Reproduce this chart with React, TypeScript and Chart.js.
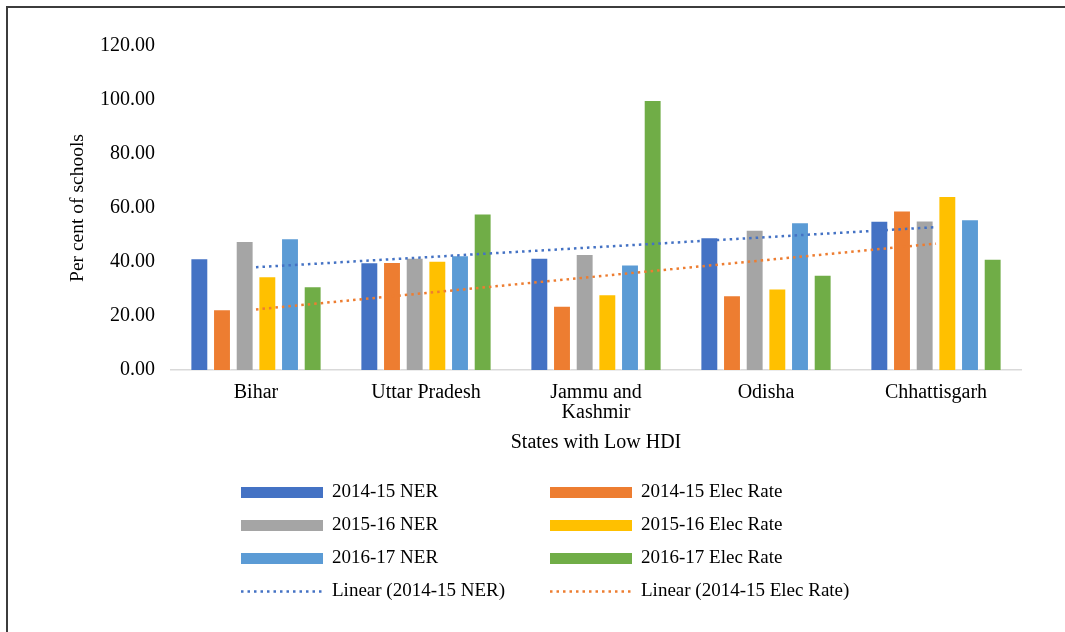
import React, { useEffect, useRef } from 'react';
import { Chart, registerables } from 'chart.js';

Chart.register(...registerables);

// ---- Data ----
const categories: (string | string[])[] = ['Bihar', 'Uttar Pradesh', ['Jammu and', 'Kashmir'], 'Odisha', 'Chhattisgarh'];

const ner2014 = [41.4, 39.9, 41.6, 49.2, 55.3];
const elec2014 = [22.5, 40.0, 23.8, 27.7, 59.1];
const ner2015 = [47.8, 41.6, 43.0, 51.9, 55.4];
const elec2015 = [34.7, 40.5, 28.1, 30.2, 64.4];
const ner2016 = [48.8, 42.5, 39.1, 54.7, 55.8];
const elec2016 = [31.0, 58.0, 100.0, 35.3, 41.2];

const seriesLabels = [
  '2014-15 NER',
  '2014-15 Elec Rate',
  '2015-16 NER',
  '2015-16 Elec Rate',
  '2016-17 NER',
  '2016-17 Elec Rate',
];
const trendLabels = ['Linear (2014-15 NER)', 'Linear (2014-15 Elec Rate)'];

const yMin = 0;
const yMax = 120;
const yStep = 20;

const yTitle = 'Per cent of schools';
const xTitle = 'States with Low HDI';

// ---- Styles ----
const seriesColors = ['#4472C4', '#ED7D31', '#A5A5A5', '#FFC000', '#5B9BD5', '#70AD47'];
const SERIF = '"Liberation Serif", "Times New Roman", serif';

// Least-squares linear trendline (Excel "Linear" trendline) of a series
function linearTrend(values: number[]): number[] {
  const n = values.length;
  const xs = values.map((_, i) => i);
  const mx = xs.reduce((a, b) => a + b, 0) / n;
  const my = values.reduce((a, b) => a + b, 0) / n;
  let num = 0;
  let den = 0;
  xs.forEach((x, i) => {
    num += (x - mx) * (values[i] - my);
    den += (x - mx) * (x - mx);
  });
  const slope = num / den;
  const icpt = my - slope * mx;
  return xs.map((x) => icpt + slope * x);
}

const LEGEND_X = [241, 550];
const LEGEND_Y0 = 492.5;
const LEGEND_DY = 33;
const KEY_W = 82;
const KEY_H = 11;
const KEY_GAP = 9;

const customDrawPlugin = {
  id: 'customDraw',
  afterDraw(chart: any) {
    const ctx: CanvasRenderingContext2D = chart.ctx;
    ctx.save();
    ctx.font = `19px ${SERIF}`;
    ctx.textBaseline = 'middle';
    ctx.textAlign = 'left';
    chart.data.datasets.forEach((ds: any, i: number) => {
      const col = i % 2;
      const row = Math.floor(i / 2);
      const x = LEGEND_X[col];
      const y = LEGEND_Y0 + row * LEGEND_DY;
      if (ds.type === 'line') {
        ctx.strokeStyle = ds.borderColor;
        ctx.lineWidth = 2.5;
        ctx.setLineDash([2.5, 4]);
        ctx.beginPath();
        ctx.moveTo(x, y);
        ctx.lineTo(x + KEY_W, y);
        ctx.stroke();
        ctx.setLineDash([]);
      } else {
        ctx.fillStyle = ds.backgroundColor;
        ctx.fillRect(x, y - KEY_H / 2, KEY_W, KEY_H);
      }
      ctx.fillStyle = '#000';
      ctx.fillText(ds.label, x + KEY_W + KEY_GAP, y);
    });
    // rotated y-axis title
    const area = chart.chartArea;
    ctx.translate(78, (area.top + area.bottom) / 2);
    ctx.rotate(-Math.PI / 2);
    ctx.textAlign = 'center';
    ctx.textBaseline = 'middle';
    ctx.font = `19.5px ${SERIF}`;
    ctx.fillStyle = '#000';
    ctx.fillText(yTitle, 0, 0);
    ctx.restore();
  },
};

export default function App() {
  const canvasRef = useRef<HTMLCanvasElement | null>(null);

  useEffect(() => {
    if (!canvasRef.current) return;
    const barSeries = [ner2014, elec2014, ner2015, elec2015, ner2016, elec2016];
    const barDatasets = barSeries.map((data, i) => ({
      type: 'bar' as const,
      label: seriesLabels[i],
      data,
      backgroundColor: seriesColors[i],
      borderColor: 'rgba(255,255,255,0.35)',
      borderWidth: 1,
      barPercentage: 0.79,
      categoryPercentage: 0.8,
      order: 1,
    }));
    const trendDatasets = [ner2014, elec2014].map((data, i) => ({
      type: 'line' as const,
      label: trendLabels[i],
      data: linearTrend(data),
      borderColor: seriesColors[i],
      backgroundColor: seriesColors[i],
      borderWidth: 2.5,
      borderDash: [2.5, 4],
      pointRadius: 0,
      pointHoverRadius: 0,
      fill: false,
      tension: 0,
      order: 0,
    }));

    const chart = new Chart(canvasRef.current, {
      type: 'bar',
      data: {
        labels: categories as any,
        datasets: [...barDatasets, ...trendDatasets] as any,
      },
      options: {
        animation: false,
        responsive: false,
        maintainAspectRatio: false,
        devicePixelRatio: 1,
        layout: { padding: { left: 0, right: 44, top: 46, bottom: 177 } },
        plugins: {
          legend: { display: false },
          tooltip: { enabled: false },
          title: { display: false },
        },
        scales: {
          x: {
            grid: { display: false, drawTicks: false },
            border: { display: true, color: '#d9d9d9', width: 1.5 },
            ticks: {
              color: '#000',
              font: { family: SERIF, size: 20, lineHeight: 1.0 },
              padding: 13,
              maxRotation: 0,
              minRotation: 0,
              autoSkip: false,
            },
            title: {
              display: true,
              text: xTitle,
              color: '#000',
              font: { family: SERIF, size: 20, lineHeight: 1.2 },
              padding: 0,
            },
            afterFit: (scale: any) => {
              scale.height = 85;
            },
          },
          y: {
            min: yMin,
            max: yMax,
            grid: { display: false, drawTicks: false },
            border: { display: false },
            ticks: {
              stepSize: yStep,
              color: '#000',
              font: { family: SERIF, size: 20 },
              padding: 16,
              callback: (v: any) => Number(v).toFixed(2),
            },
            title: { display: false },
            afterFit: (scale: any) => {
              scale.width = 171;
            },
          },
        },
      },
      plugins: [customDrawPlugin],
    });
    return () => chart.destroy();
  }, []);

  return (
    <div>
      <div
        style={{
          position: 'absolute',
          left: 6,
          top: 6,
          width: 1059,
          height: 626,
          boxSizing: 'border-box',
          borderTop: '2px solid #3c3c3c',
          borderLeft: '2px solid #3c3c3c',
        }}
      />
      <canvas
        ref={canvasRef}
        width={1065}
        height={632}
        style={{ position: 'absolute', left: 0, top: 0, width: 1065, height: 632 }}
      />
    </div>
  );
}
